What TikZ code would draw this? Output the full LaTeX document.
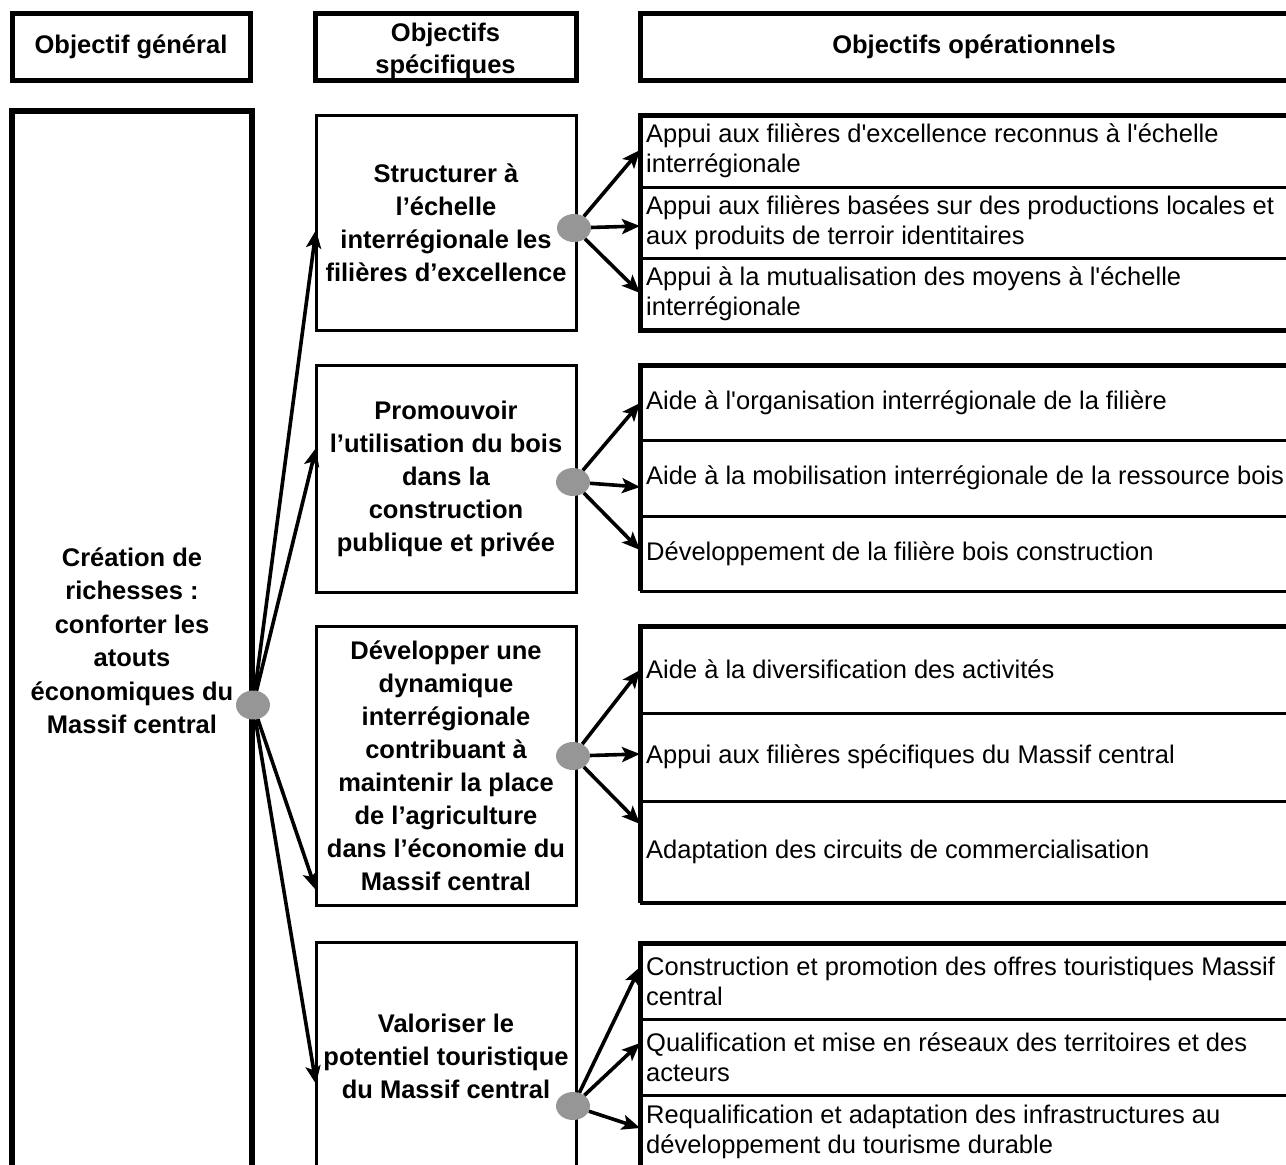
\documentclass[tikz,border=0pt]{standalone}
\usepackage{fontspec}
\setmainfont{Liberation Sans}
\usetikzlibrary{shapes.geometric,arrows.meta}
\definecolor{dotgray}{RGB}{150,150,150}
\newcommand\sq{\textquotesingle}
\begin{document}
\begin{tikzpicture}[x=1pt,y=-1pt,
  hdr/.style={draw, line width=5pt, font=\bfseries\fontsize{25.5}{32}\selectfont, align=center, inner sep=0pt},
  genbox/.style={draw, line width=5.5pt, font=\bfseries\fontsize{25.5}{33.5}\selectfont, align=center, inner sep=0pt},
  spec/.style={draw, line width=3pt, font=\bfseries\fontsize{25.5}{33}\selectfont, align=center, inner sep=0pt, minimum width=260pt},
  op/.style={anchor=west, font=\fontsize{25.5}{30}\selectfont, align=left, inner sep=0pt},
  graydot/.style={ellipse, fill=dotgray, draw=none, minimum width=34pt, minimum height=28pt, inner sep=0pt},
  arr/.style={line width=3.6pt, -{Stealth[length=18pt,width=15pt,inset=4pt]}},
  thickln/.style={line width=5pt},
  thinln/.style={line width=3pt}]
\useasboundingbox (0,0) rectangle (1286,1165);

% headers
\node[hdr, minimum width=238pt, minimum height=67pt] (h1) at (131,46.5) {Objectif général};
\node[hdr, minimum width=261pt, minimum height=67pt] (h2) at (445.5,46.5) {};
\node[font=\bfseries\fontsize{25.5}{32}\selectfont, align=center, inner sep=0pt] (h2t) at (445.5,51) {Objectifs\\spécifiques};
\node[hdr, minimum width=668pt, minimum height=67pt] (h3) at (974,46.5) {Objectifs opérationnels};

% general objective
\node[genbox, minimum width=240pt, minimum height=1060pt] (gen) at (132,641)
  {Création de\\richesses :\\conforter les\\atouts\\économiques du\\Massif central};

% specific objectives
\node[spec, minimum height=215pt] (s1) at (446,222.5)
  {Structurer à\\l’échelle\\interrégionale les\\filières d’excellence};
\node[spec, minimum height=227pt] (s2) at (446,478.5)
  {Promouvoir\\l’utilisation du bois\\dans la\\construction\\publique et privée};
\node[spec, minimum height=279pt] (s3) at (446,765.5)
  {Développer une\\dynamique\\interrégionale\\contribuant à\\maintenir la place\\de l’agriculture\\dans l’économie du\\Massif central};
\node[spec, minimum height=228pt] (s4) at (446,1056)
  {Valoriser le\\potentiel touristique\\du Massif central};

% operational groups: frames
\draw[thinln] (640,187) -- (1300,187) (640,258) -- (1300,258);
\draw[thickln] (1300,115) -- (640,115) -- (640,330) -- (1300,330);
\draw[thinln] (640,440) -- (1300,440) (640,516) -- (1300,516) (640,591) -- (1300,591);
\draw[thickln] (1300,365) -- (640,365) -- (640,591);
\draw[thinln] (640,713) -- (1300,713) (640,801) -- (1300,801);
\draw[line width=4pt] (640,903) -- (1300,903);
\draw[thickln] (1300,626) -- (640,626) -- (640,903);
\draw[thinln] (640,1019) -- (1300,1019) (640,1095) -- (1300,1095);
\draw[thickln] (1300,943) -- (640,943) -- (640,1180);

% operational texts
\node[op] (o11) at (646,151) {Appui aux filières d\sq excellence reconnus à l\sq échelle\\interrégionale};
\node[op] (o12) at (646,222.5) {Appui aux filières basées sur des productions locales et\\aux produits de terroir identitaires};
\node[op] (o13) at (646,294) {Appui à la mutualisation des moyens à l\sq échelle\\interrégionale};
\node[op] (o21) at (646,402.5) {Aide à l\sq organisation interrégionale de la filière};
\node[op] (o22) at (646,478) {Aide à la mobilisation interrégionale de la ressource bois};
\node[op] (o23) at (646,554) {Développement de la filière bois construction};
\node[op] (o31) at (646,669.5) {Aide à la diversification des activités};
\node[op] (o32) at (646,757) {Appui aux filières spécifiques du Massif central};
\node[op] (o33) at (646,852) {Adaptation des circuits de commercialisation};
\node[op] (o41) at (646,981) {Construction et promotion des offres touristiques Massif\\central};
\node[op] (o42) at (646,1057) {Qualification et mise en réseaux des territoires et des\\acteurs};
\node[op] (o43) at (646,1132) {Requalification et adaptation des infrastructures au\\développement du tourisme durable};

% dots
\node[graydot, minimum width=34pt, minimum height=29pt] (d0) at (253,705) {};
\node[graydot] (d1) at (574,228) {};
\node[graydot] (d2) at (573,482) {};
\node[graydot] (d3) at (573,756) {};
\node[graydot] (d4) at (573,1106) {};

% arrow tips
\coordinate (t1) at (316,230);
\coordinate (t2) at (316,448);
\coordinate (t3) at (316,890);
\coordinate (t4) at (316,1084);
\coordinate (c11) at (640,150);
\coordinate (c12) at (640,226);
\coordinate (c13) at (640,293);
\coordinate (c21) at (640,403);
\coordinate (c22) at (640,487);
\coordinate (c23) at (640,550);
\coordinate (c31) at (640,670);
\coordinate (c32) at (640,754);
\coordinate (c33) at (640,824);
\coordinate (c41) at (640,967);
\coordinate (c42) at (640,1043);
\coordinate (c43) at (640,1128);

% arrows
\foreach \t in {t1,t2,t3,t4} \draw[arr] (d0) -- (\t);
\foreach \g in {1,2,3,4} {
  \foreach \k in {1,2,3} \draw[arr] (d\g) -- (c\g\k);
}
\end{tikzpicture}
\end{document}
